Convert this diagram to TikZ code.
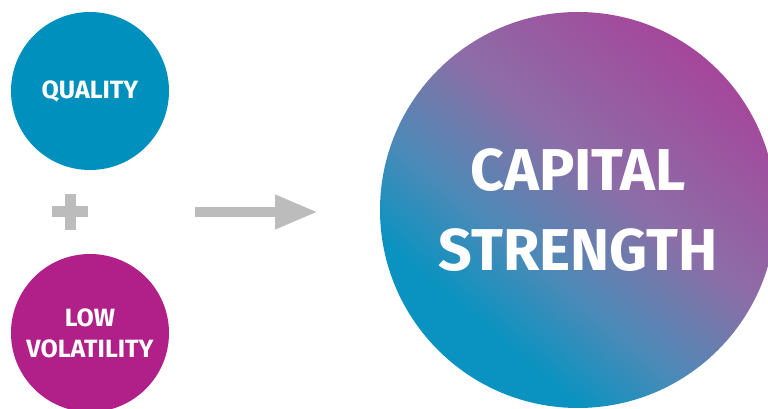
\documentclass[tikz,border=0pt]{standalone}
\usepackage{fontspec}
\setmainfont{Fira Sans}
\usetikzlibrary{positioning, arrows.meta}

\definecolor{qualityblue}{HTML}{0090BE}
\definecolor{lowvolpink}{HTML}{B02088}
\definecolor{capteal}{HTML}{0A93C0}
\definecolor{capblue}{HTML}{4B8AB8}
\definecolor{capmid}{HTML}{7279AB}
\definecolor{capviolet}{HTML}{8C6EA8}
\definecolor{capmagenta}{HTML}{A4489B}
\definecolor{arrowgray}{HTML}{BDBCBC}

\pgfdeclarehorizontalshading{capitalshade}{100bp}{color(0bp)=(capteal); color(31bp)=(capteal); color(41.5bp)=(capblue); color(50bp)=(capmid); color(55bp)=(capviolet); color(74bp)=(capmagenta); color(100bp)=(capmagenta)}

\begin{document}
\begin{tikzpicture}[x=1pt,y=1pt,on grid,node distance=242pt,
  bubble/.style={circle,minimum size=158pt,inner sep=0pt,text=white,align=center,
    font=\bfseries\fontsize{25}{31}\selectfont},
  bigbubble/.style={circle,minimum size=396pt,inner sep=0pt,text=white,align=center,
    font=\bfseries\fontsize{59}{80}\selectfont,shade,shading=capitalshade,shading angle=50},
  plusbar/.style={line width=11pt,arrowgray},
  bigarrow/.style={line width=10pt,arrowgray,-{Triangle[length=43pt,width=32pt]}}]
  \useasboundingbox (0,0) rectangle (768,409);

  % Define the two inputs
  \node[bubble, fill=qualityblue] (quality) at (90,318) {QUALITY};
  \node[bubble, fill=lowvolpink] (lowvol) [below=of quality] {LOW\\VOLATILITY};

  % plus sign between them
  \node[minimum size=35pt, inner sep=0pt] (plus) [below=121pt of quality, xshift=-20pt] {};
  \draw[plusbar] (plus.west) -- (plus.east) (plus.north) -- (plus.south);

  % Define the result
  \node[bigbubble] (capital) at (578,199) {CAPITAL\\STRENGTH};

  % arrow
  \node[coordinate, right=125pt of plus] (arrowstart) {};
  \node[coordinate, right=248pt of plus] (arrowend) {};
  \draw[bigarrow] (arrowstart) -- (arrowend);

\end{tikzpicture}
\end{document}
